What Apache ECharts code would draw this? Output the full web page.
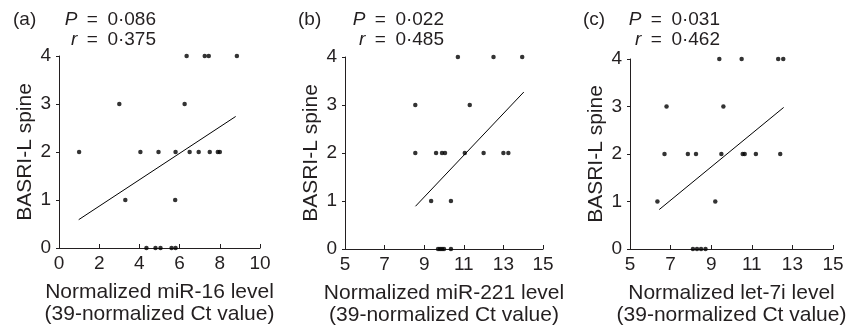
<!DOCTYPE html>
<html>
<head>
<meta charset="utf-8">
<script src="https://cdn.jsdelivr.net/npm/echarts@6/dist/echarts.min.js"></script>
<style>
  html, body { margin: 0; padding: 0; background: #fff; }
  #chart { width: 856px; height: 334px; }
</style>
</head>
<body>
<div id="chart"></div>
<script>
// panel (a): miR-16
const mir16X = [1.0, 3.0, 3.3, 4.05, 4.95, 5.8, 5.78, 6.25, 6.35, 6.5, 6.95, 7.25, 7.45, 7.5, 7.9, 8.0, 8.85, 4.35, 4.8, 5.05, 5.6, 5.8];
const mir16Y = [2, 3, 1, 2, 2, 2, 1, 3, 4, 2, 2, 4, 4, 2, 2, 2, 4, 0, 0, 0, 0, 0];
const mir16Fit = [[0.98, 0.59], [8.79, 2.74]];

// panel (b): miR-221
const mir221X = [8.55, 8.55, 9.35, 9.6, 9.9, 10.05, 10.35, 10.7, 11.05, 11.3, 12.0, 12.5, 13.0, 13.25, 13.95, 9.7, 9.8, 9.9, 10.0, 10.35];
const mir221Y = [3, 2, 1, 2, 2, 2, 1, 4, 2, 3, 2, 4, 2, 2, 4, 0, 0, 0, 0, 0];
const mir221Fit = [[8.56, 0.89], [14.03, 3.27]];

// panel (c): let-7i
const let7iX = [6.35, 6.7, 6.8, 7.85, 8.25, 9.2, 9.4, 9.5, 9.6, 10.5, 10.55, 10.65, 11.2, 12.3, 12.4, 12.55, 8.1, 8.3, 8.5, 8.72];
const let7iY = [1, 2, 3, 2, 2, 1, 4, 2, 3, 4, 2, 2, 2, 4, 2, 4, 0, 0, 0, 0];
const let7iFit = [[6.44, 0.83], [12.57, 2.98]];

const panelLabels = ["(a)", "(b)", "(c)"];
const pValues = ["0·086", "0·022", "0·031"];
const rValues = ["0·375", "0·485", "0·462"];
const xNames = ["Normalized miR-16 level", "Normalized miR-221 level", "Normalized let-7i level"];
const xRanges = [[0, 10], [5, 15], [5, 15]];

const FONT = "Liberation Sans, Arial, Helvetica, sans-serif";
const INK = "#231f20";

const panels = [
  { x: mir16X, y: mir16Y, fit: mir16Fit, grid: { left: 59, top: 56, width: 201, height: 192 } },
  { x: mir221X, y: mir221Y, fit: mir221Fit, grid: { left: 345, top: 57, width: 198, height: 192 } },
  { x: let7iX, y: let7iY, fit: let7iFit, grid: { left: 630, top: 59, width: 203, height: 190 } }
];

const chart = echarts.init(document.getElementById("chart"), null, { renderer: "canvas" });

const xAxes = panels.map((p, i) => ({
  gridIndex: i,
  type: "value",
  min: xRanges[i][0],
  max: xRanges[i][1],
  interval: 2,
  name: xNames[i] + "\n(39-normalized Ct value)",
  nameLocation: "middle",
  nameGap: 33,
  nameTextStyle: { color: INK, fontFamily: FONT, fontSize: 21, lineHeight: 22 },
  axisLine: { show: true, onZero: false, lineStyle: { color: INK, width: 1 } },
  axisTick: { show: true, inside: true, length: 4, lineStyle: { color: INK } },
  axisLabel: { color: INK, fontFamily: FONT, fontSize: 19, margin: 6 },
  splitLine: { show: false }
}));

const yAxes = panels.map((p, i) => ({
  gridIndex: i,
  type: "value",
  min: 0,
  max: 4,
  interval: 1,
  name: "BASRI-L spine",
  nameLocation: "middle",
  nameGap: 23,
  nameTextStyle: { color: INK, fontFamily: FONT, fontSize: 21 },
  axisLine: { show: true, onZero: false, lineStyle: { color: INK, width: 1 } },
  axisTick: { show: true, inside: false, length: 3, lineStyle: { color: INK } },
  axisLabel: { color: INK, fontFamily: FONT, fontSize: 19, margin: 8 },
  splitLine: { show: false }
}));

const series = [];
panels.forEach((p, i) => {
  series.push({
    type: "scatter",
    xAxisIndex: i,
    yAxisIndex: i,
    symbol: "circle",
    symbolSize: 4.5,
    clip: false,
    itemStyle: { color: "#000" },
    data: p.x.map((v, k) => [v, p.y[k]])
  });
  series.push({
    type: "line",
    xAxisIndex: i,
    yAxisIndex: i,
    showSymbol: false,
    symbol: "none",
    silent: true,
    lineStyle: { color: "#000", width: 1 },
    data: p.fit
  });
});

const rich = {
  i: { fontStyle: "italic", fontFamily: FONT, fontSize: 19, fill: INK },
  n: { fontFamily: FONT, fontSize: 19, fill: INK }
};
const labelX = [13, 298, 583];
const statRight = [156, 444, 720];
const graphics = [];
panels.forEach((p, i) => {
  graphics.push({
    type: "text",
    left: labelX[i],
    top: 10,
    style: { text: panelLabels[i], font: "19px " + FONT, fill: INK }
  });
  graphics.push({
    type: "text",
    x: statRight[i],
    y: 20,
    style: {
      text: "{i|P}{n|\u2002=\u2002" + pValues[i] + "}",
      rich: rich,
      align: "right",
      verticalAlign: "middle",
      fill: INK
    }
  });
  graphics.push({
    type: "text",
    x: statRight[i],
    y: 40,
    style: {
      text: "{i|r}{n|\u2002=\u2002" + rValues[i] + "}",
      rich: rich,
      align: "right",
      verticalAlign: "middle",
      fill: INK
    }
  });
});

chart.setOption({
  animation: false,
  backgroundColor: "#fff",
  grid: panels.map((p) => p.grid),
  xAxis: xAxes,
  yAxis: yAxes,
  series: series,
  graphic: graphics
});
</script>
</body>
</html>
